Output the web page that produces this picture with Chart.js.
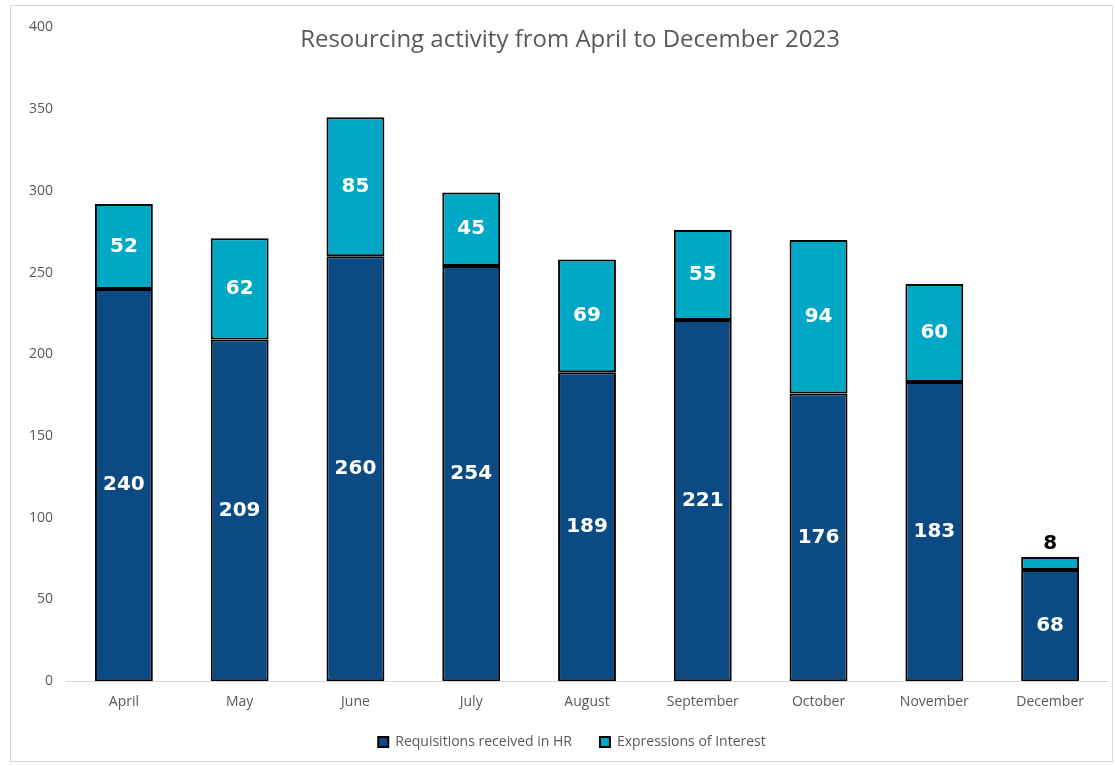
<!DOCTYPE html>
<html>
<head>
<meta charset="utf-8">
<title>Resourcing activity</title>
<script src="https://cdn.jsdelivr.net/npm/chart.js@4.4.1/dist/chart.umd.min.js"></script>
<style>
  body { margin: 0; background: #fff; }
  #frame {
    position: absolute; left: 10px; top: 5px;
    width: 1103px; height: 757px;
    border: 1px solid #d9d9d9; box-sizing: border-box;
  }
  #frame canvas { display: block; }
</style>
</head>
<body>
<div id="frame"><canvas id="chart" width="1101" height="755"></canvas></div>
<script>
// Datos
const months = ['April', 'May', 'June', 'July', 'August', 'September', 'October', 'November', 'December'];
const requisitions = [240, 209, 260, 254, 189, 221, 176, 183, 68];
const expressions = [52, 62, 85, 45, 69, 55, 94, 60, 8];
const yTicks = [0, 50, 100, 150, 200, 250, 300, 350, 400];

const chartTitle = 'Resourcing activity from April to December 2023';
const darkBlue = '#0B4A82';
const cyan = '#00A8C6';
const grey = '#595959';

// Título dibujado a mano (queda por encima del área del gráfico, como en el original)
const titlePlugin = {
  id: 'manualTitle',
  afterLayout(chart) {
    // mover la leyenda para que quede donde está en el original
    chart.legend.left += 7;
    chart.legend.right += 7;
    chart.legend.top -= 15;
    chart.legend.bottom -= 15;
  },
  afterDraw(chart) {
    const ctx = chart.ctx;
    ctx.save();
    ctx.font = '24px "Open Sans", sans-serif';
    ctx.fillStyle = grey;
    ctx.textAlign = 'center';
    ctx.textBaseline = 'middle';
    ctx.fillText(chartTitle, 559, 34);
    ctx.restore();
  }
};

// Etiquetas de valores dentro de cada segmento
const labelsPlugin = {
  id: 'barValues',
  afterDatasetsDraw(chart) {
    const ctx = chart.ctx;
    ctx.save();
    ctx.font = 'bold 20px "DejaVu Sans", sans-serif';
    ctx.textAlign = 'center';
    ctx.textBaseline = 'middle';
    chart.data.datasets.forEach((ds, di) => {
      const meta = chart.getDatasetMeta(di);
      meta.data.forEach((bar, i) => {
        const v = ds.data[i];
        const h = Math.abs(bar.base - bar.y);
        if (h < 30) {
          ctx.fillStyle = '#000';
          ctx.fillText(v, bar.x, bar.y - 13);
        } else {
          ctx.fillStyle = '#fff';
          ctx.fillText(v, bar.x, (bar.y + bar.base) / 2);
        }
      });
    });
    ctx.restore();
  }
};

new Chart(document.getElementById('chart'), {
  type: 'bar',
  data: {
    labels: months,
    datasets: [{
      label: 'Requisitions received in HR',
      data: requisitions,
      backgroundColor: darkBlue,
      borderColor: '#000',
      borderWidth: 2,
      borderSkipped: false
    }, {
      label: 'Expressions of Interest',
      data: expressions,
      backgroundColor: cyan,
      borderColor: '#000',
      borderWidth: 2,
      borderSkipped: false
    }]
  },
  options: {
    responsive: false,
    animation: false,
    devicePixelRatio: 1,
    layout: { padding: { left: 11, right: 4, top: 0, bottom: -13 } },
    datasets: { bar: { categoryPercentage: 1, barPercentage: 0.5 } },
    plugins: {
      title: { display: false },
      tooltip: { enabled: false },
      legend: {
        position: 'bottom',
        labels: {
          color: grey,
          font: { family: '"Open Sans", sans-serif', size: 14 },
          boxWidth: 10,
          boxHeight: 10,
          padding: 28
        }
      }
    },
    scales: {
      x: {
        stacked: true,
        grid: { display: false, drawTicks: false },
        border: { display: true, color: '#d9d9d9', width: 1 },
        ticks: {
          color: grey,
          padding: 12,
          maxRotation: 0,
          font: { family: '"Open Sans", sans-serif', size: 14 }
        }
      },
      y: {
        stacked: true,
        min: 0,
        max: 400,
        grid: { display: false, drawTicks: false },
        border: { display: false },
        afterFit(scale) { scale.width = 44; },
        afterBuildTicks(scale) { scale.ticks = yTicks.map(v => ({ value: v })); },
        ticks: {
          color: grey,
          padding: 13,
          font: { family: '"Open Sans", sans-serif', size: 14 }
        }
      }
    }
  },
  plugins: [titlePlugin, labelsPlugin]
});
</script>
</body>
</html>
